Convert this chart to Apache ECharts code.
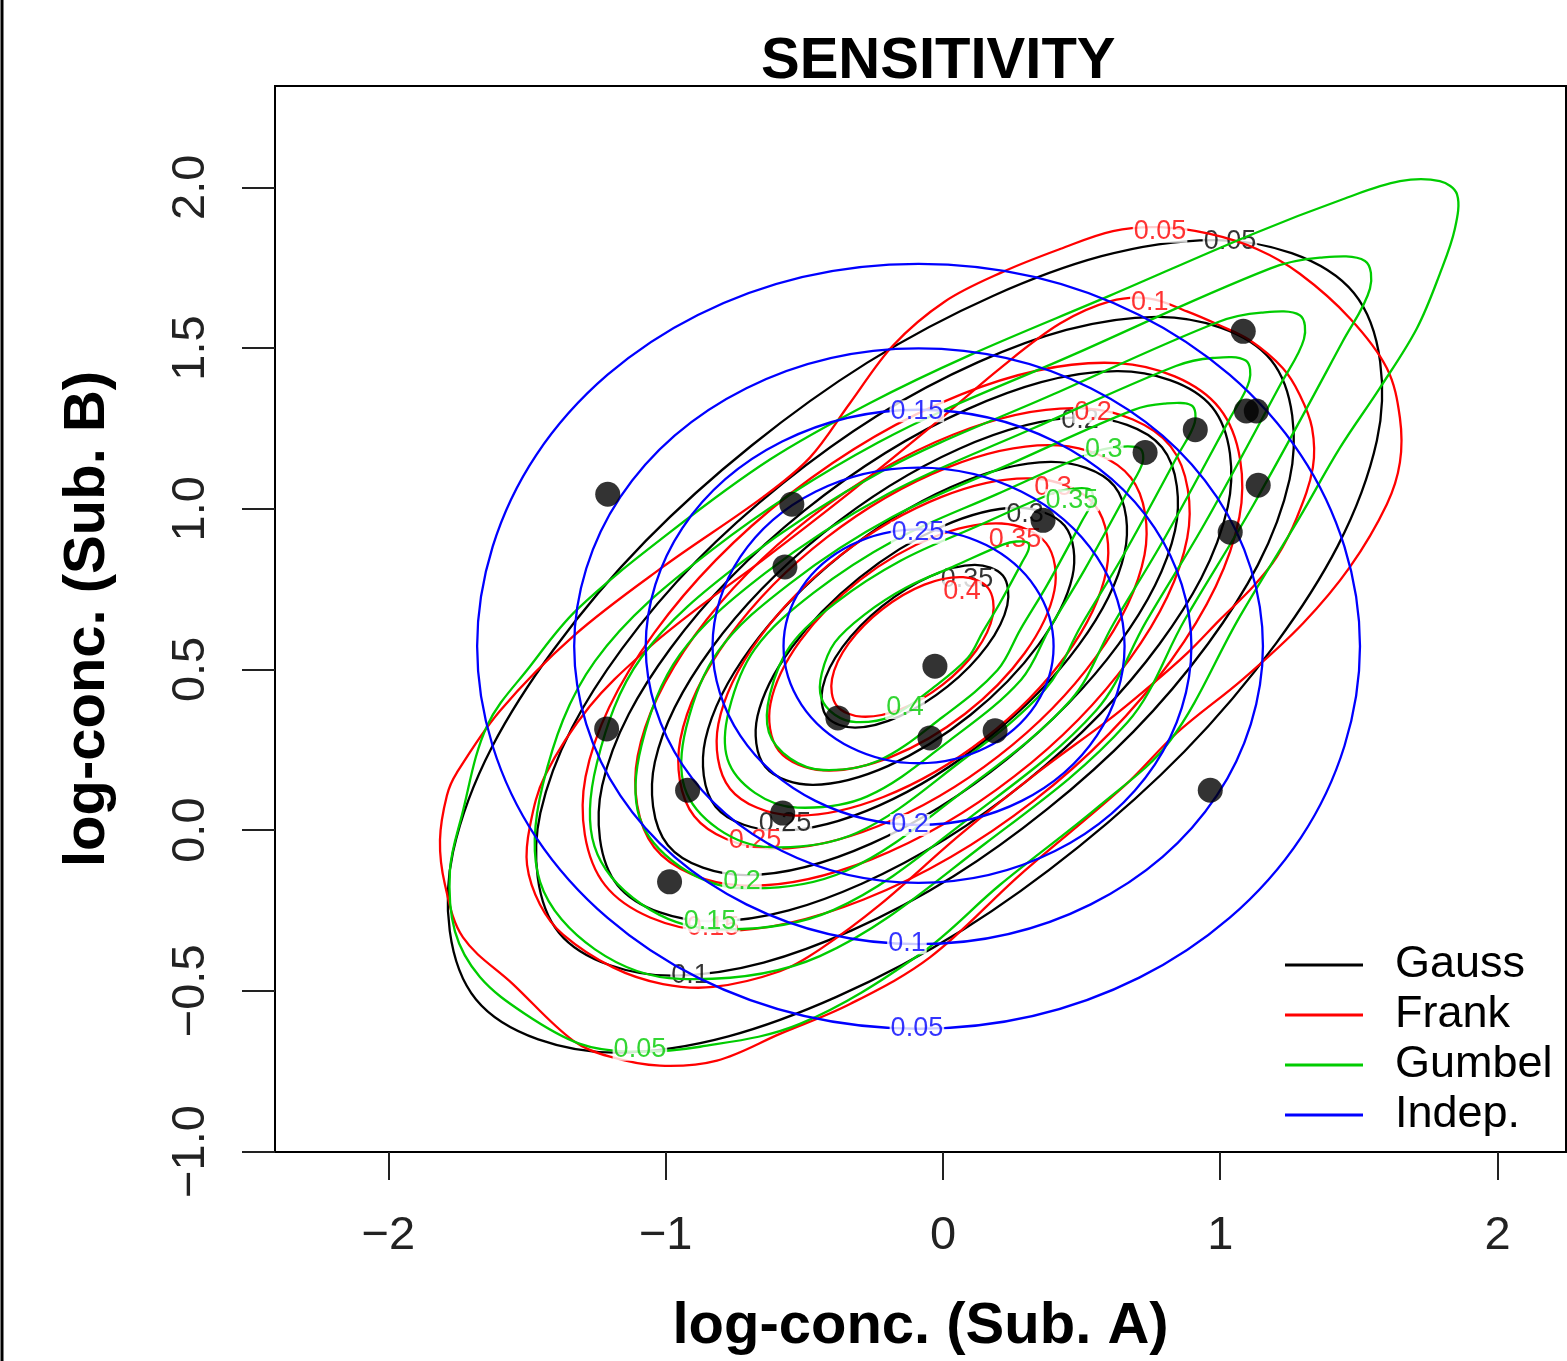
<!DOCTYPE html>
<html><head><meta charset="utf-8">
<script src="https://cdn.jsdelivr.net/npm/echarts@6/dist/echarts.min.js"></script>
<style>html,body{margin:0;padding:0;background:#fff}#c{width:1567px;height:1361px}</style>
</head><body><div id="c"></div>
<script>
// ---------- observed data points (log-conc A, log-conc B) ----------
const obsX = [1.083, 1.094, 1.130, 0.910, 0.729, 1.137, 1.036, -0.545, -0.570, 0.361, -0.029, -0.379, -0.047, 0.188, -1.209, -1.213, -0.921, -0.986, -0.578, 0.964];
const obsY = [1.552, 1.304, 1.304, 1.246, 1.175, 1.073, 0.927, 1.014, 0.819, 0.964, 0.510, 0.349, 0.287, 0.309, 1.045, 0.315, 0.124, -0.161, 0.053, 0.124];

// ---------- contour levels ----------
const gaussLevels = ['0.05','0.1','0.15','0.2','0.25','0.3','0.35'];
const frankLevels = ['0.05','0.1','0.15','0.2','0.25','0.3','0.35','0.4'];
const gumbelLevels = ['0.05','0.1','0.15','0.2','0.25','0.3','0.35','0.4'];
const indepLevels = ['0.05','0.1','0.15','0.2','0.25'];

// ---------- contour paths ----------
const gaussContours = [
 [[1.482,1.671],[0.975,1.836],[0.180,1.662],[-0.691,1.196],[-1.404,0.562],[-1.767,-0.068],[-1.684,-0.527],[-1.177,-0.692],[-0.382,-0.518],[0.489,-0.052],[1.202,0.582],[1.565,1.212]],
 [[1.183,1.463],[0.772,1.597],[0.127,1.456],[-0.579,1.078],[-1.158,0.564],[-1.452,0.053],[-1.385,-0.319],[-0.974,-0.453],[-0.329,-0.312],[0.377,0.066],[0.956,0.580],[1.250,1.091]],
 [[0.971,1.316],[0.627,1.428],[0.089,1.310],[-0.500,0.994],[-0.983,0.565],[-1.229,0.139],[-1.173,-0.172],[-0.829,-0.284],[-0.291,-0.166],[0.298,0.150],[0.781,0.579],[1.027,1.005]],
 [[0.790,1.191],[0.505,1.284],[0.057,1.186],[-0.433,0.923],[-0.835,0.566],[-1.039,0.212],[-0.992,-0.047],[-0.707,-0.140],[-0.259,-0.042],[0.231,0.221],[0.633,0.578],[0.837,0.932]],
 [[0.618,1.071],[0.388,1.146],[0.027,1.067],[-0.369,0.855],[-0.693,0.567],[-0.857,0.281],[-0.820,0.073],[-0.590,-0.002],[-0.229,0.077],[0.167,0.289],[0.491,0.577],[0.655,0.863]],
 [[0.439,0.947],[0.266,1.003],[-0.005,0.944],[-0.302,0.785],[-0.545,0.569],[-0.669,0.354],[-0.641,0.197],[-0.468,0.141],[-0.197,0.200],[0.100,0.359],[0.343,0.575],[0.467,0.790]],
 [[0.216,0.792],[0.114,0.825],[-0.045,0.790],[-0.219,0.697],[-0.362,0.570],[-0.434,0.444],[-0.418,0.352],[-0.316,0.319],[-0.157,0.354],[0.017,0.447],[0.160,0.574],[0.232,0.700]]
];

const frankContours = [
 [[-1.814,-0.031],[-1.789,0.108],[-1.753,0.179],[-1.598,0.371],[-1.334,0.603],[-1.010,0.819],[-0.649,1.036],[-0.480,1.159],[-0.335,1.329],[-0.180,1.508],[0.007,1.645],[0.216,1.737],[0.422,1.808],[0.613,1.864],[0.783,1.876],[0.963,1.855],[1.132,1.808],[1.287,1.731],[1.468,1.592],[1.601,1.437],[1.648,1.283],[1.648,1.144],[1.601,1.014],[1.468,0.819],[1.298,0.643],[1.082,0.470],[0.844,0.303],[0.656,0.139],[0.278,-0.139],[-0.047,-0.396],[-0.335,-0.541],[-0.588,-0.634],[-0.815,-0.717],[-1.021,-0.733],[-1.201,-0.705],[-1.334,-0.655],[-1.551,-0.479],[-1.731,-0.334],[-1.796,-0.170]],
 [[-1.500,-0.108],[-1.489,0.015],[-1.435,0.170],[-1.273,0.386],[-1.067,0.563],[-0.876,0.696],[-0.649,0.841],[-0.335,1.051],[-0.047,1.252],[0.206,1.437],[0.422,1.576],[0.602,1.645],[0.746,1.654],[0.880,1.614],[0.999,1.570],[1.107,1.524],[1.226,1.437],[1.287,1.354],[1.331,1.252],[1.334,1.128],[1.277,0.974],[1.204,0.850],[1.118,0.757],[0.999,0.655],[0.880,0.550],[0.746,0.448],[0.602,0.346],[0.350,0.185],[0.061,-0.015],[-0.227,-0.232],[-0.444,-0.371],[-0.588,-0.439],[-0.829,-0.488],[-1.010,-0.479],[-1.190,-0.427],[-1.370,-0.325],[-1.453,-0.232]],
 [[0.998,1.312],[0.631,1.453],[0.066,1.356],[-0.547,1.049],[-1.042,0.613],[-1.289,0.166],[-1.218,-0.172],[-0.851,-0.313],[-0.286,-0.216],[0.327,0.091],[0.822,0.527],[1.069,0.974]],
 [[0.821,1.194],[0.513,1.312],[0.038,1.231],[-0.477,0.973],[-0.894,0.607],[-1.101,0.231],[-1.041,-0.054],[-0.733,-0.172],[-0.258,-0.091],[0.257,0.167],[0.674,0.533],[0.881,0.909]],
 [[0.677,1.097],[0.416,1.197],[0.015,1.128],[-0.420,0.910],[-0.772,0.601],[-0.947,0.283],[-0.897,0.043],[-0.636,-0.057],[-0.235,0.012],[0.200,0.230],[0.552,0.539],[0.727,0.857]],
 [[0.548,1.011],[0.330,1.094],[-0.005,1.037],[-0.370,0.855],[-0.664,0.596],[-0.810,0.330],[-0.768,0.129],[-0.550,0.046],[-0.215,0.103],[0.150,0.285],[0.444,0.544],[0.590,0.810]],
 [[0.372,0.893],[0.212,0.954],[-0.033,0.912],[-0.300,0.778],[-0.515,0.589],[-0.622,0.394],[-0.592,0.247],[-0.432,0.186],[-0.187,0.228],[0.080,0.362],[0.295,0.551],[0.402,0.746]],
 [[0.163,0.753],[0.073,0.787],[-0.067,0.764],[-0.218,0.688],[-0.340,0.581],[-0.400,0.471],[-0.383,0.387],[-0.293,0.353],[-0.153,0.376],[-0.002,0.452],[0.120,0.559],[0.180,0.669]]
];

const gumbelContours = [
 [[1.854,1.978],[1.846,1.870],[1.792,1.731],[1.709,1.561],[1.576,1.376],[1.432,1.190],[1.287,0.974],[1.071,0.665],[0.819,0.278],[0.566,0.077],[0.206,-0.170],[-0.083,-0.386],[-0.516,-0.603],[-0.876,-0.674],[-1.129,-0.689],[-1.309,-0.665],[-1.507,-0.572],[-1.670,-0.457],[-1.760,-0.315],[-1.778,-0.124],[-1.735,0.046],[-1.644,0.325],[-1.489,0.510],[-1.320,0.686],[-0.984,0.927],[-0.624,1.153],[-0.263,1.329],[0.097,1.478],[0.602,1.663],[1.118,1.855],[1.442,1.963],[1.648,2.019],[1.792,2.019]],
 [[1.522,1.771],[1.540,1.685],[1.442,1.521],[1.121,1.014],[0.873,0.656],[0.664,0.334],[0.155,-0.040],[-0.444,-0.392],[-0.948,-0.463],[-1.255,-0.371],[-1.453,-0.161],[-1.443,0.142],[-1.255,0.526],[-0.833,0.872],[-0.234,1.206],[0.483,1.484],[1.179,1.747],[1.360,1.781]],
 [[1.287,1.602],[1.302,1.528],[1.218,1.388],[0.944,0.954],[0.732,0.648],[0.553,0.373],[0.118,0.053],[-0.394,-0.248],[-0.825,-0.308],[-1.088,-0.230],[-1.257,-0.050],[-1.248,0.209],[-1.088,0.537],[-0.727,0.833],[-0.215,1.119],[0.398,1.356],[0.993,1.581],[1.148,1.610]],
 [[1.092,1.461],[1.105,1.398],[1.033,1.278],[0.797,0.905],[0.615,0.642],[0.461,0.405],[0.087,0.130],[-0.353,-0.128],[-0.724,-0.181],[-0.949,-0.113],[-1.095,0.041],[-1.087,0.264],[-0.949,0.546],[-0.639,0.801],[-0.199,1.046],[0.328,1.251],[0.840,1.444],[0.973,1.469]],
 [[0.897,1.321],[0.908,1.268],[0.848,1.168],[0.651,0.856],[0.498,0.636],[0.369,0.438],[0.056,0.208],[-0.312,-0.009],[-0.622,-0.053],[-0.811,0.004],[-0.932,0.133],[-0.926,0.319],[-0.811,0.556],[-0.551,0.768],[-0.183,0.974],[0.258,1.145],[0.686,1.307],[0.798,1.327]],
 [[0.711,1.187],[0.720,1.144],[0.671,1.062],[0.510,0.809],[0.386,0.630],[0.282,0.468],[0.027,0.281],[-0.273,0.105],[-0.525,0.070],[-0.678,0.116],[-0.777,0.221],[-0.772,0.372],[-0.678,0.564],[-0.467,0.738],[-0.168,0.905],[0.191,1.044],[0.539,1.175],[0.630,1.192]],
 [[0.532,1.059],[0.539,1.025],[0.501,0.961],[0.376,0.763],[0.279,0.624],[0.197,0.498],[-0.001,0.352],[-0.235,0.215],[-0.431,0.187],[-0.551,0.223],[-0.628,0.305],[-0.624,0.423],[-0.551,0.573],[-0.386,0.708],[-0.153,0.838],[0.127,0.947],[0.398,1.049],[0.469,1.062]],
 [[0.305,0.895],[0.309,0.874],[0.285,0.833],[0.205,0.706],[0.143,0.616],[0.090,0.536],[-0.037,0.442],[-0.187,0.354],[-0.313,0.336],[-0.390,0.359],[-0.439,0.412],[-0.437,0.488],[-0.390,0.584],[-0.284,0.670],[-0.134,0.754],[0.045,0.823],[0.219,0.889],[0.264,0.898]]
];

const indepContours = [
 [[1.504,0.572],[1.291,1.167],[0.708,1.603],[-0.088,1.762],[-0.884,1.603],[-1.467,1.167],[-1.680,0.572],[-1.467,-0.023],[-0.884,-0.459],[-0.088,-0.618],[0.708,-0.459],[1.291,-0.023]],
 [[1.154,0.572],[0.988,1.036],[0.533,1.375],[-0.088,1.499],[-0.709,1.375],[-1.164,1.036],[-1.330,0.572],[-1.164,0.108],[-0.709,-0.231],[-0.088,-0.355],[0.533,-0.231],[0.988,0.108]],
 [[0.896,0.572],[0.764,0.940],[0.404,1.209],[-0.088,1.308],[-0.580,1.209],[-0.940,0.940],[-1.072,0.572],[-0.940,0.204],[-0.580,-0.065],[-0.088,-0.164],[0.404,-0.065],[0.764,0.204]],
 [[0.655,0.572],[0.555,0.850],[0.284,1.053],[-0.088,1.128],[-0.460,1.053],[-0.731,0.850],[-0.831,0.572],[-0.731,0.294],[-0.460,0.091],[-0.088,0.016],[0.284,0.091],[0.555,0.294]],
 [[0.399,0.572],[0.334,0.754],[0.156,0.887],[-0.088,0.936],[-0.332,0.887],[-0.510,0.754],[-0.575,0.572],[-0.510,0.390],[-0.332,0.257],[-0.088,0.208],[0.156,0.257],[0.334,0.390]]
];

// ---------- inline contour labels [x, y, text] ----------
const gaussLabels = [[1.035,1.830,'0.05'],[-0.912,-0.454,'0.1'],[0.494,1.274,'0.2'],[-0.570,0.020,'0.25'],[0.296,0.983,'0.3'],[0.087,0.779,'0.35']];
const frankLabels = [[0.783,1.862,'0.05'],[0.746,1.640,'0.1'],[-0.829,-0.303,'0.15'],[0.541,1.300,'0.2'],[-0.678,-0.031,'0.25'],[0.397,1.066,'0.3'],[0.260,0.903,'0.35'],[0.069,0.742,'0.4']];
const gumbelLabels = [[-1.093,-0.683,'0.05'],[-0.840,-0.284,'0.15'],[-0.725,-0.161,'0.2'],[0.465,1.026,'0.35'],[-0.137,0.380,'0.4'],[0.580,1.185,'0.3']];
const indepLabels = [[-0.094,-0.618,'0.05'],[-0.130,-0.352,'0.1'],[-0.094,1.303,'0.15'],[-0.119,0.016,'0.2'],[-0.090,0.925,'0.25']];

// ---------- axis ticks ----------
const xTicks = [-2, -1, 0, 1, 2];
const yTicks = [-1, -0.5, 0, 0.5, 1, 1.5, 2];

const FONT = 'Liberation Sans, Arial, Helvetica, sans-serif';
const chart = echarts.init(document.getElementById('c'), null, {renderer: 'canvas'});

function contourSeries(name, contours, color, z) {
  return {
    type: 'custom', name: name, z: z, clip: true, silent: true,
    coordinateSystem: 'cartesian2d',
    data: contours.map((c, i) => [c[0][0], c[0][1], i]),
    encode: {x: 0, y: 1},
    itemStyle: {color: color},
    renderItem: function (params, api) {
      const pts = contours[params.dataIndex].map(p => api.coord(p));
      return {
        type: 'polygon',
        shape: {points: pts, smooth: 0.35},
        style: {fill: 'none', stroke: color, lineWidth: 2.3}
      };
    }
  };
}
function labelSeries(name, labels, color, z) {
  return {
    type: 'scatter', name: name, z: z, silent: true, symbolSize: 0,
    data: labels.map(l => ({value: [l[0], l[1]], name: l[2]})),
    label: {show: true, position: 'inside', formatter: '{b}', color: color,
      fontSize: 27, fontFamily: FONT, backgroundColor: '#fff', padding: [0, 1], lineHeight: 22},
    emphasis: {disabled: true}
  };
}
const minusFmt = (v, d) => (v < 0 ? '\u2212' : '') + Math.abs(v).toFixed(d);

const option = {
  backgroundColor: '#fff',
  animation: false,
  title: {
    text: 'SENSITIVITY', left: 756, top: 28,
    textStyle: {fontSize: 58, fontWeight: 'bold', color: '#000', fontFamily: FONT}
  },
  legend: {
    orient: 'vertical', left: 1280, top: 935, itemWidth: 78, itemHeight: 3, itemGap: 0,
    selectedMode: false,
    textStyle: {fontSize: 45, fontFamily: FONT, color: '#000', lineHeight: 50, padding: [0, 0, 0, 27]},
    data: [
      {name: 'Gauss', icon: 'rect', itemStyle: {color: '#000'}},
      {name: 'Frank', icon: 'rect', itemStyle: {color: '#ff0000'}},
      {name: 'Gumbel', icon: 'rect', itemStyle: {color: '#00cc00'}},
      {name: 'Indep.', icon: 'rect', itemStyle: {color: '#0000ff'}}
    ]
  },
  grid: {left: 275, top: 86, width: 1291, height: 1073, show: true, borderColor: '#000', borderWidth: 2, backgroundColor: 'transparent'},
  xAxis: {
    type: 'value', min: -2.409, max: 2.247,
    name: 'log-conc. (Sub. A)', nameLocation: 'middle', nameGap: 146,
    nameTextStyle: {fontSize: 58, fontWeight: 'bold', color: '#000', fontFamily: FONT},
    axisLine: {show: true, onZero: false, lineStyle: {color: '#000', width: 2}},
    axisTick: {show: true, inside: false, length: 28, customValues: xTicks, lineStyle: {color: '#222', width: 2}},
    axisLabel: {show: true, customValues: xTicks, margin: 61, fontSize: 47, color: '#222', fontFamily: FONT,
      formatter: v => minusFmt(v, 0)},
    splitLine: {show: false}
  },
  yAxis: {
    type: 'value', min: -1.0015, max: 2.3153,
    name: 'log-conc. (Sub. B)', nameLocation: 'middle', nameGap: 158,
    nameTextStyle: {fontSize: 58, fontWeight: 'bold', color: '#000', fontFamily: FONT},
    axisLine: {show: true, onZero: false, lineStyle: {color: '#000', width: 2}},
    axisTick: {show: true, inside: false, length: 33, customValues: yTicks, lineStyle: {color: '#222', width: 2}},
    axisLabel: {show: true, customValues: yTicks, rotate: 90, margin: 60, fontSize: 47, color: '#222', fontFamily: FONT,
      formatter: v => minusFmt(v, 1)},
    splitLine: {show: false}
  },
  graphic: [{type: 'line', shape: {x1: 2, y1: 0, x2: 2, y2: 1361}, style: {stroke: '#000', lineWidth: 3}, silent: true}],
  series: [
    contourSeries('Gauss', gaussContours, '#000000', 2),
    labelSeries('GaussLab', gaussLabels, '#000000', 3),
    contourSeries('Frank', frankContours, '#ff0000', 4),
    labelSeries('FrankLab', frankLabels, '#ff0000', 5),
    contourSeries('Gumbel', gumbelContours, '#00cc00', 6),
    labelSeries('GumbelLab', gumbelLabels, '#00cc00', 7),
    contourSeries('Indep.', indepContours, '#0000ff', 8),
    labelSeries('IndepLab', indepLabels, '#0000ff', 9),
    {
      type: 'scatter', name: 'obs', z: 10, silent: true, symbol: 'circle', symbolSize: 25,
      itemStyle: {color: '#000'},
      data: obsX.map((x, i) => [x, obsY[i]])
    }
  ]
};
chart.setOption(option);
</script>
</body></html>
